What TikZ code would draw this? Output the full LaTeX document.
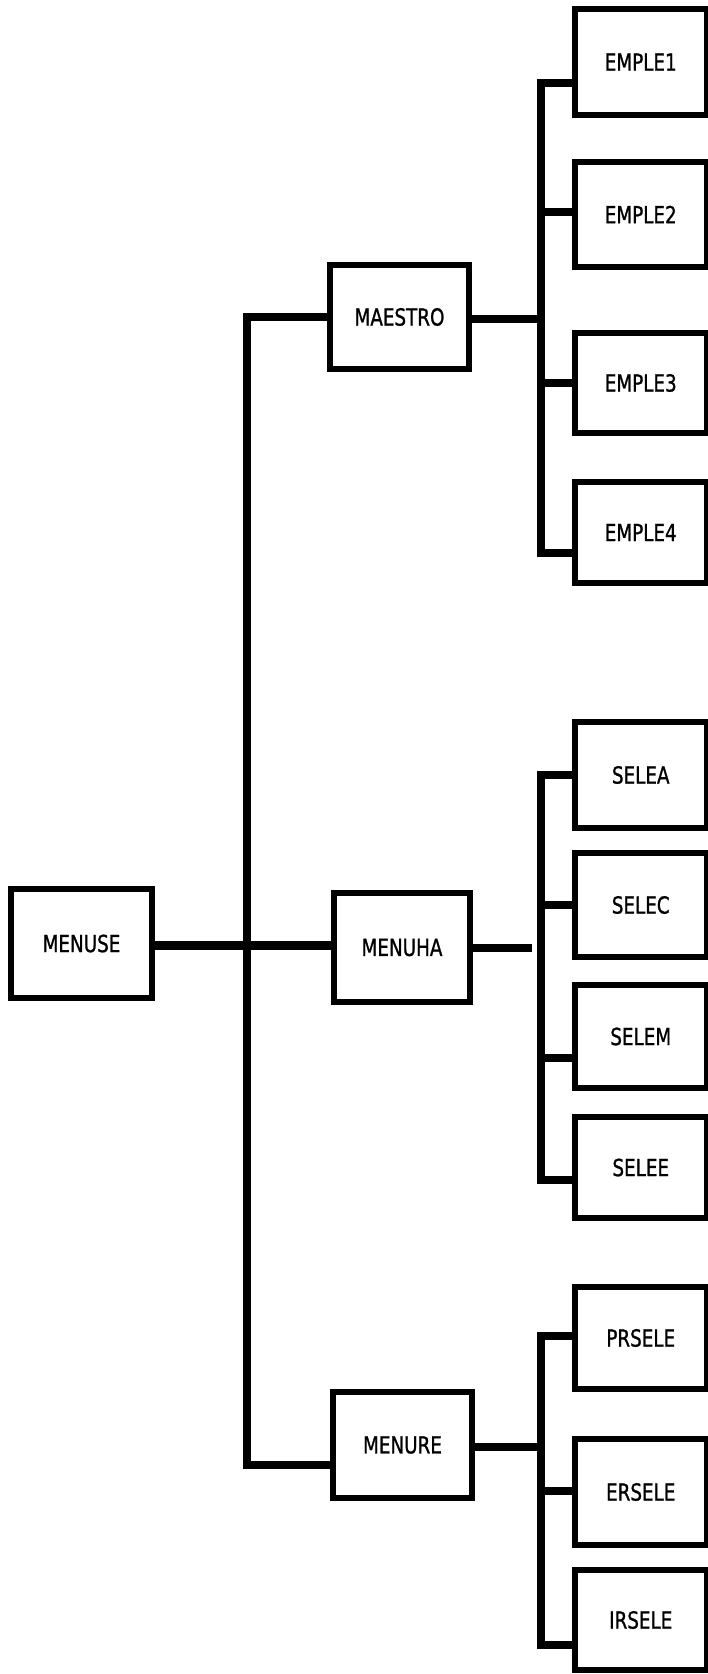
\documentclass[tikz,border=0pt]{standalone}
\usepackage{fontspec}
\setmainfont{DejaVu Sans}[FakeStretch=0.78,FakeBold=1]
\begin{document}
\begin{tikzpicture}[x=1pt,y=-1pt,
  box/.style={draw, line width=5.5pt, inner sep=0pt, font=\fontsize{23.5}{28}\selectfont},
  midbox/.style={box, minimum width=138pt, minimum height=105pt},
  leafbox/.style={box, minimum width=131.5pt, minimum height=103pt},
  conn/.style={line width=8.5pt, line join=miter, line cap=butt}]
\fill[white] (0,0) rectangle (708,1674);
\useasboundingbox (0,0) rectangle (708,1674);

% left and middle boxes
\node[midbox, minimum width=141pt, minimum height=109pt] (menuse) at (81.5,943.5) {MENUSE};
\node[midbox, minimum width=139pt, minimum height=104pt] (maestro) at (399.5,317) {MAESTRO};
\node[midbox, minimum width=136pt, minimum height=109pt] (menuha) at (402,947.5) {MENUHA};
\node[midbox, minimum width=139pt, minimum height=106pt] (menure) at (402.5,1445) {MENURE};

% leaf boxes
\node[leafbox, minimum height=106pt] (e1) at (640.75,62) {EMPLE1};
\node[leafbox, minimum height=105pt] (e2) at (640.75,214.5) {EMPLE2};
\node[leafbox, minimum height=100pt] (e3) at (640.75,383) {EMPLE3};
\node[leafbox, minimum height=101pt] (e4) at (640.75,532.5) {EMPLE4};
\node[leafbox, minimum height=106pt] (s1) at (640.75,775) {SELEA};
\node[leafbox, minimum height=104pt] (s2) at (640.75,905) {SELEC};
\node[leafbox, minimum height=103pt] (s3) at (640.75,1036.5) {SELEM};
\node[leafbox, minimum height=101pt] (s4) at (640.75,1167.5) {SELEE};
\node[leafbox, minimum height=102pt] (r1) at (640.75,1338) {PRSELE};
\node[leafbox, minimum height=106pt] (r2) at (640.75,1492) {ERSELE};
\node[leafbox, minimum height=100pt] (r3) at (640.75,1620) {IRSELE};

% junction coordinates
\coordinate (t1) at (247,317);
\coordinate (t3) at (247,1465);
\coordinate (tm) at (247,945.5);
\coordinate (a1) at (541,83);
\coordinate (a2) at (541,212);
\coordinate (a3) at (541,383);
\coordinate (a4) at (541,553);
\coordinate (am) at (541,319);
\coordinate (b1) at (541,775);
\coordinate (b2) at (541,905);
\coordinate (b3) at (541,1058);
\coordinate (b4) at (541,1180);
\coordinate (hs) at (532,948);
\coordinate (c1) at (541,1336);
\coordinate (c2) at (541,1491);
\coordinate (c3) at (541,1645);
\coordinate (cm) at (541,1447);

% trunk
\draw[conn] (maestro.west |- t1) -- (t1) -- (t3) -- (menure.west |- t3);
\draw[conn] (menuse.east |- tm) -- (menuha.west |- tm);

% MAESTRO group
\draw[conn] (maestro.east |- am) -- (am);
\draw[conn] (e1.west |- a1) -- (a1) -- (a4) -- (e4.west |- a4);
\draw[conn] (a2) -- (e2.west |- a2);
\draw[conn] (a3) -- (e3.west |- a3);

% MENUHA group
\draw[conn] (menuha.east |- hs) -- (hs);
\draw[conn] (s1.west |- b1) -- (b1) -- (b4) -- (s4.west |- b4);
\draw[conn] (b2) -- (s2.west |- b2);
\draw[conn] (b3) -- (s3.west |- b3);

% MENURE group
\draw[conn] (menure.east |- cm) -- (cm);
\draw[conn] (r1.west |- c1) -- (c1) -- (c3) -- (r3.west |- c3);
\draw[conn] (c2) -- (r2.west |- c2);
\end{tikzpicture}
\end{document}
